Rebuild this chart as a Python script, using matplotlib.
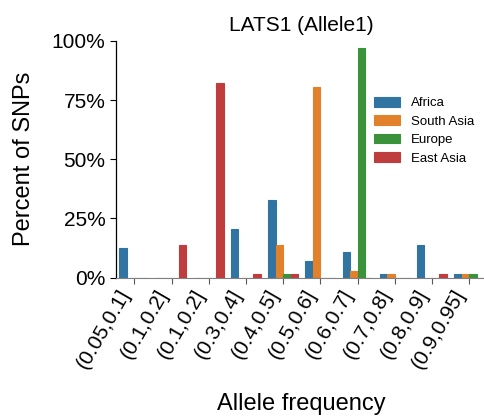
import matplotlib
matplotlib.use("Agg")
from matplotlib import pyplot as plt
from matplotlib.ticker import FuncFormatter
import numpy as np

plt.rcParams['font.family'] = ['Liberation Sans', 'DejaVu Sans']

# bins as labelled in the original (the third label is repeated there)
bins = ["(0.05,0.1]", "(0.1,0.2]", "(0.1,0.2]", "(0.3,0.4]", "(0.4,0.5]",
        "(0.5,0.6]", "(0.6,0.7]", "(0.7,0.8]", "(0.8,0.9]", "(0.9,0.95]"]
populations = ["Africa", "South Asia", "Europe", "East Asia"]
africa = [12.5, 0, 0, 20.6, 32.8, 7.2, 11.0, 1.5, 13.8, 1.5]
south_asia = [0, 0, 0, 0, 13.8, 80.6, 3.0, 1.5, 0, 1.5]
europe = [0, 0, 0, 0, 1.5, 0, 97.2, 0, 0, 1.5]
east_asia = [0, 13.8, 82.4, 1.5, 1.5, 0, 0, 0, 1.5, 0]
colors = ["#3274a1", "#e1812c", "#3a923a", "#c03d3e"]

fig = plt.figure(figsize=(4.85, 4.18), dpi=100)
ax = fig.add_axes([0.2386, 0.3357, 0.767, 0.5665])

x = np.arange(len(bins))
w = 0.2
for i, (vals, name) in enumerate(zip([africa, south_asia, europe, east_asia], populations)):
    ax.bar(x + (i - 1.5) * w, vals, width=w, color=colors[i],
           edgecolor=colors[i], linewidth=0.8, label=name)

ax.set_xlim(-0.5, 9.5)
ax.set_ylim(0, 100)
ax.set_yticks([0, 25, 50, 75, 100])
ax.yaxis.set_major_formatter(FuncFormatter(lambda v, p: f"{v:.0f}%"))
ax.set_xticks(x)
ax.set_xticklabels(bins, rotation=60, ha='right')
ax.tick_params(axis='both', labelsize=15, length=4, width=0.8)
ax.tick_params(axis='x', color='0.35', pad=2)

for s in ['top', 'right']:
    ax.spines[s].set_visible(False)
ax.spines['bottom'].set_color('0.5')
ax.spines['left'].set_linewidth(0.9)

ax.set_title("LATS1 (Allele1)", fontsize=15, pad=7)
ax.set_ylabel("Percent of SNPs", fontsize=17, labelpad=12)
ax.set_xlabel("Allele frequency", fontsize=17, labelpad=15)

fig.legend(loc='upper left', bbox_to_anchor=(374 / 485, 1 - 97 / 418),
           frameon=False, fontsize=9.5, borderpad=0, borderaxespad=0,
           handlelength=2.0, handleheight=0.75, labelspacing=0.45,
           handletextpad=0.8)

fig.savefig("out.png", dpi=100)
